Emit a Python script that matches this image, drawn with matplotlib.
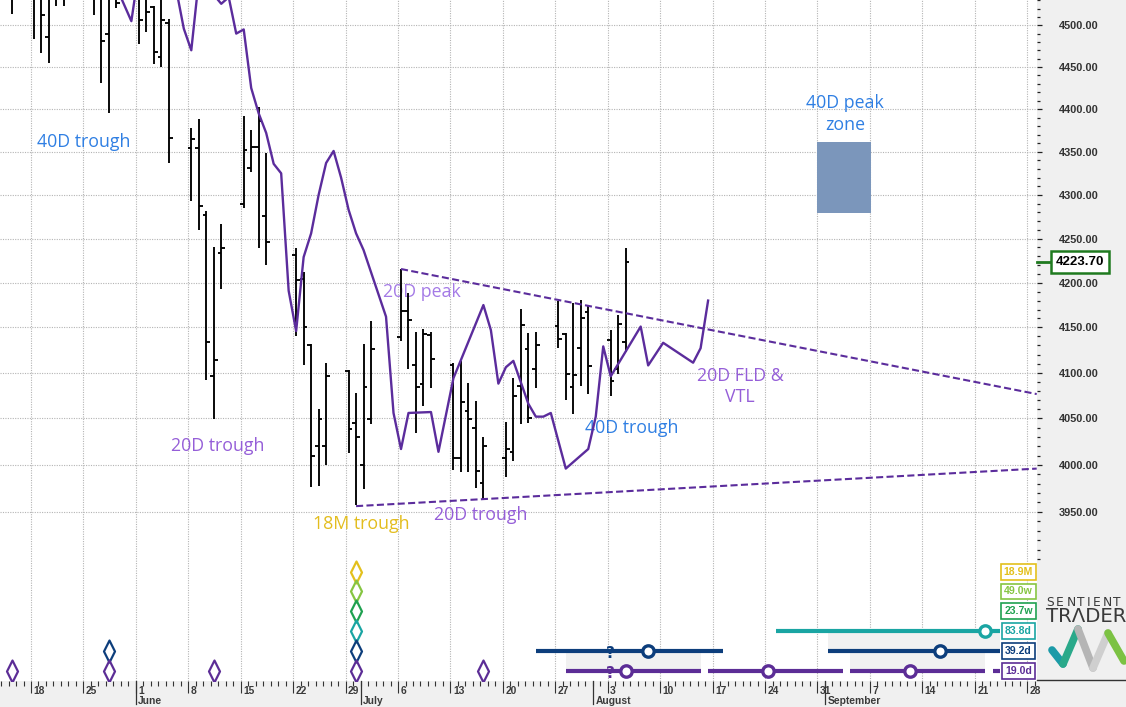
import matplotlib
matplotlib.use('Agg')
import matplotlib.pyplot as plt
import matplotlib.dates as mdates
import numpy as np
import pandas as pd
from matplotlib.transforms import blended_transform_factory as blend, ScaledTranslation
from matplotlib.path import Path
from matplotlib.patches import Rectangle
from matplotlib.ticker import FixedLocator, NullFormatter, FixedFormatter

plt.rcParams['font.family'] = ['Liberation Sans', 'DejaVu Sans']

# ---------------- data ----------------
bar_dates = ['2026-05-15', '2026-05-18', '2026-05-19', '2026-05-20', '2026-05-21', '2026-05-22',
             '2026-05-26', '2026-05-27', '2026-05-28', '2026-05-29',
             '2026-06-01', '2026-06-02', '2026-06-03', '2026-06-04', '2026-06-05',
             '2026-06-08', '2026-06-09', '2026-06-10', '2026-06-11', '2026-06-12',
             '2026-06-15', '2026-06-16', '2026-06-17', '2026-06-18',
             '2026-06-22', '2026-06-23', '2026-06-24', '2026-06-25', '2026-06-26',
             '2026-06-29', '2026-06-30', '2026-07-01', '2026-07-02',
             '2026-07-06', '2026-07-07', '2026-07-08', '2026-07-09', '2026-07-10',
             '2026-07-13', '2026-07-14', '2026-07-15', '2026-07-16', '2026-07-17',
             '2026-07-20', '2026-07-21', '2026-07-22', '2026-07-23', '2026-07-24',
             '2026-07-27', '2026-07-28', '2026-07-29', '2026-07-30', '2026-07-31',
             '2026-08-03', '2026-08-04', '2026-08-05']
opens = [4565, 4555, 4560, 4486, 4560, 4570, 4560, 4555, 4489, 4550,
         4550, 4540, 4522, 4462, 4503,
         4355, 4355, 4277, 4096, 4234,
         4290, 4331, 4356, 4276,
         4231, 4204, 4131, 4020, 4020,
         4102, 4045, 4000, 4049,
         4139, 4168, 4108, 4088, 4142,
         4108, 4007, 4058, 4040, 3981,
         4007, 4014, 4085, 4126, 4104,
         4152, 4143, 4084, 4127, 4167,
         4136, 4104, 4134]
highs = [4590, 4600, 4590, 4585, 4600, 4605, 4600, 4580, 4570, 4580,
         4575, 4570, 4523, 4545, 4508,
         4378, 4388, 4281, 4241, 4267,
         4392, 4376, 4403, 4349,
         4239, 4212, 4132, 4060, 4111,
         4103, 4078, 4132, 4157,
         4216, 4188, 4145, 4148, 4145,
         4111, 4113, 4089, 4069, 4030,
         4046, 4094, 4171, 4144, 4145,
         4179, 4144, 4177, 4181, 4175,
         4147, 4164, 4239]
lows = [4514, 4484, 4467, 4455, 4523, 4523, 4513, 4431, 4395, 4521,
        4477, 4492, 4454, 4450, 4337,
        4293, 4260, 4092, 4049, 4193,
        4285, 4327, 4239, 4220,
        4140, 4108, 3976, 3977, 4000,
        4013, 3957, 3974, 4044,
        4135, 4104, 4034, 4064, 4083,
        3994, 3992, 3992, 3975, 3964,
        3987, 4004, 4044, 4045, 4083,
        4127, 4070, 4055, 4085, 4077,
        4074, 4099, 4123]
closes = [4540, 4545, 4512, 4545, 4575, 4560, 4550, 4481, 4540, 4527,
          4506, 4516, 4468, 4506, 4366,
          4365, 4287, 4134, 4114, 4239,
          4352, 4356, 4386, 4246,
          4203, 4150, 4009, 4049, 4096,
          4039, 4030, 4084, 4126,
          4168, 4158, 4084, 4143, 4115,
          4007, 4068, 4049, 3993, 4020,
          4017, 4075, 4153, 4050, 4130,
          4137, 4099, 4097, 4161, 4107,
          4091, 4154, 4223.70]

fld_dates = ['2026-05-28', '2026-05-31', '2026-06-01', '2026-06-06', '2026-06-07', '2026-06-08',
             '2026-06-09', '2026-06-11', '2026-06-12', '2026-06-13', '2026-06-14', '2026-06-15',
             '2026-06-16', '2026-06-17', '2026-06-18', '2026-06-19', '2026-06-20', '2026-06-21',
             '2026-06-22', '2026-06-23', '2026-06-24', '2026-06-25', '2026-06-26', '2026-06-27',
             '2026-06-28', '2026-06-29', '2026-06-30', '2026-07-01', '2026-07-04', '2026-07-05',
             '2026-07-06', '2026-07-07', '2026-07-10', '2026-07-11', '2026-07-13', '2026-07-14',
             '2026-07-17', '2026-07-18', '2026-07-19', '2026-07-20', '2026-07-21', '2026-07-23',
             '2026-07-24', '2026-07-25', '2026-07-26', '2026-07-28', '2026-07-31', '2026-08-01',
             '2026-08-02', '2026-08-03', '2026-08-07', '2026-08-08', '2026-08-10', '2026-08-14',
             '2026-08-15', '2026-08-16']
fld_values = [4567, 4505, 4567, 4543, 4496, 4470,
              4555, 4537, 4526, 4534, 4490, 4495,
              4425, 4395, 4372, 4336, 4325, 4191,
              4146, 4229, 4256, 4300, 4337, 4351,
              4320, 4283, 4256, 4237, 4162, 4056,
              4017, 4056, 4057, 4014, 4094, 4114,
              4175, 4147, 4088, 4106, 4113, 4066,
              4052, 4052, 4056, 3996, 4017, 4052,
              4129, 4096, 4151, 4108, 4133, 4111,
              4127, 4180]

vtl_upper_dates = ['2026-07-06', '2026-09-28']
vtl_upper_values = [4215.5, 4078.0]
vtl_lower_dates = ['2026-06-30', '2026-09-28']
vtl_lower_values = [3956.0, 3995.6]

peak_zone_dates = ['2026-08-31 00:00', '2026-09-07 05:00']
peak_zone_values = [4279, 4361]

price_ticks = [3950, 4000, 4050, 4100, 4150, 4200, 4250, 4300, 4350, 4400, 4450, 4500]
week_start = '2026-05-18'
week_labels = ['18', '25', '1', '8', '15', '22', '29', '6', '13', '20',
               '27', '3', '10', '17', '24', '31', '7', '14', '21', '28']
month_dates = ['2026-06-01', '2026-07-01', '2026-08-01', '2026-09-01']
month_labels = ['June', 'July', 'August', 'September']

cycle_labels = ['18.9M', '49.0w', '23.7w', '83.8d', '39.2d', '19.0d']
cycle_colors = ['#e3c01c', '#86c542', '#1fa150', '#1aa5a3', '#0d3e7c', '#5c2d96']
troughs_18_9M = ['2026-06-30']
troughs_49_0w = ['2026-06-30']
troughs_23_7w = ['2026-06-30']
troughs_83_8d = ['2026-06-30']
troughs_39_2d = ['2026-05-28', '2026-06-30']
troughs_19_0d = ['2026-05-15', '2026-05-28', '2026-06-11', '2026-06-30', '2026-07-17']

proj_83_8d = [('2026-08-25', '2026-09-24')]
proj_39_2d = [('2026-07-24', '2026-08-18'), ('2026-09-01', '2026-09-24')]
proj_19_0d = [('2026-07-28', '2026-08-15'), ('2026-08-16', '2026-09-03'),
              ('2026-09-04', '2026-09-22'), ('2026-09-23', '2026-09-24')]
next_83_8d = ['2026-09-22']
next_39_2d = ['2026-08-08', '2026-09-16']
next_19_0d = ['2026-08-05', '2026-08-24', '2026-09-12']
unconfirmed_39_2d = ['2026-08-03']
unconfirmed_19_0d = ['2026-08-03']
last_price = 4223.70

# ---------------- layout ----------------
W, H, DPI = 1126, 707, 100
PLOT_R, PLOT_B = 1036.7, 681.0
DAY_PX = 7.49
BAR_OFF = 0.4

fig = plt.figure(figsize=(W / DPI, H / DPI), dpi=DPI)
fig.patch.set_facecolor('#f0f0f0')
ax = fig.add_axes([0, 1 - PLOT_B / H, PLOT_R / W, PLOT_B / H])
ax.set_facecolor('white')
for s in ax.spines.values():
    s.set_visible(False)


def dn(v):
    return mdates.date2num(pd.to_datetime(v))


x0 = dn(week_start)
ax.set_xlim(x0 - 31 / DAY_PX, x0 + (PLOT_R - 31) / DAY_PX)
ax.set_yscale('log')
ax.set_ylim(3774.9, 4530.6)
xl = ax.get_xlim()

# x ticks
week_pos = dn(pd.date_range(week_start, periods=len(week_labels), freq='7D'))
ax.xaxis.set_major_locator(FixedLocator(week_pos))
ax.xaxis.set_minor_locator(FixedLocator(np.arange(np.ceil(xl[0]), xl[1])))
ax.xaxis.set_major_formatter(NullFormatter())
ax.xaxis.set_minor_formatter(NullFormatter())
ax.tick_params(axis='x', which='major', length=8.5, width=0.8, color='#333333')
ax.tick_params(axis='x', which='minor', length=3.6, width=0.8, color='#333333')

tx = blend(ax.transData, ax.transAxes) + ScaledTranslation(2.5 / DPI, 0, fig.dpi_scale_trans)
for p, lab in zip(week_pos, week_labels):
    ax.text(p, 1 - 690.5 / PLOT_B, lab, transform=tx, ha='left', va='center',
            fontsize=7.4, fontweight='bold', color='#3a3a3a', clip_on=False)
tb = blend(ax.transData, ax.transAxes)
for d, lab in zip(month_dates, month_labels):
    p = dn(d)
    ax.plot([p, p], [0, 1 - 704 / PLOT_B], transform=tb, color='#333333', lw=0.9, clip_on=False)
    ax.text(p, 1 - 701.5 / PLOT_B, lab, transform=tx, ha='left', va='center',
            fontsize=7.4, fontweight='bold', color='#3a3a3a', clip_on=False)

# y ticks
ax.yaxis.tick_right()
ax.yaxis.set_major_locator(FixedLocator(price_ticks))
ax.yaxis.set_major_formatter(FixedFormatter([f'{v:.2f}' for v in price_ticks]))
ax.yaxis.set_minor_locator(FixedLocator(np.arange(3900, 4531, 10)))
ax.yaxis.set_minor_formatter(NullFormatter())
ax.tick_params(axis='y', which='major', length=3.8, width=0.9, color='#222222', pad=12.0,
               labelsize=7.9, labelcolor='#333333')
ax.tick_params(axis='y', which='minor', length=2.2, width=0.9, color='#222222')
for lbl in ax.get_yticklabels():
    lbl.set_fontweight('bold')

ax.grid(True, which='major', axis='both', color='#b4b4b4', linestyle=(0, (1, 1.2)), lw=0.8)
ax.set_axisbelow(True)

# peak zone
zx = dn(peak_zone_dates)
ax.add_patch(Rectangle((zx[0], peak_zone_values[0]), zx[1] - zx[0],
                       peak_zone_values[1] - peak_zone_values[0],
                       facecolor='#7b96bb', edgecolor='none', zorder=2))

# annotations (under the bars)
BLUE, PURPLE, GOLD = '#2f7fe3', '#955ed8', '#e3bd1e'
ann_font = dict(family=['Open Sans', 'DejaVu Sans'], fontsize=12.8, zorder=3)


def label(xp, yp, s, c, **kw):
    ax.text(xp / PLOT_R, 1 - yp / PLOT_B, s, transform=ax.transAxes, ha='center', va='center',
            color=c, **ann_font, **kw)


label(84, 142, '40D trough', BLUE)
label(218, 446, '20D trough', PURPLE)
label(422, 292, '20D peak', '#a47ae6')
label(361, 524, '18M trough', GOLD)
label(481, 515, '20D trough', PURPLE)
label(632, 428, '40D trough', BLUE)
label(740, 376, '20D FLD &', PURPLE)
label(740, 397, 'VTL', PURPLE)
label(845, 103, '40D peak', BLUE)
label(845, 125, 'zone', BLUE)

# OHLC bars
bx = dn(bar_dates) + BAR_OFF
TW = 0.5
bar_kw = dict(color='black', lw=1.35, zorder=4)
ax.vlines(bx, lows, highs, **bar_kw)
ax.hlines(opens, bx - TW, bx, **bar_kw)
ax.hlines(closes, bx, bx + TW, **bar_kw)

# FLD line
LINE_PURPLE = '#5b2c9c'
ax.plot(dn(fld_dates) + BAR_OFF, fld_values, color=LINE_PURPLE, lw=1.7, zorder=5)


# trend lines extended to right edge
def extended(dates, vals):
    xs = dn(dates) + BAR_OFF
    lv = np.log(vals)
    slope = (lv[1] - lv[0]) / (xs[1] - xs[0])
    return [xs[0], xl[1]], [vals[0], float(np.exp(lv[0] + slope * (xl[1] - xs[0])))]


for d, v in [(vtl_upper_dates, vtl_upper_values), (vtl_lower_dates, vtl_lower_values)]:
    xs, ys = extended(d, v)
    ln, = ax.plot(xs, ys, color=LINE_PURPLE, lw=1.5, zorder=5)
    ln.set_dashes((3.4, 1.6))

ax.set_xlim(xl)

# ---------------- cycle panel ----------------
TOP_PX = 560.0
ax2 = fig.add_axes([0, 1 - PLOT_B / H, PLOT_R / W, (PLOT_B - TOP_PX) / H])
ax2.set_xlim(xl)
ROW0, ROWSP = 571.6, 19.9
ax2.set_ylim((PLOT_B - ROW0) / ROWSP, (TOP_PX - ROW0) / ROWSP)
ax2.axis('off')
ax2.patch.set_alpha(0)

# faint time bands
band_color = '#f1f1f1'
for (a, b), r0 in [(proj_19_0d[0], 4.0), (proj_39_2d[1], 3.05), (proj_19_0d[2], 4.0)]:
    xa, xb = dn(a) + BAR_OFF, dn(b) + BAR_OFF
    ax2.add_patch(Rectangle((xa, r0), xb - xa, 1.0, facecolor=band_color, edgecolor='none', zorder=0))

diamond = Path([(0, 1), (0.5, 0), (0, -1), (-0.5, 0), (0, 1)],
               [Path.MOVETO, Path.LINETO, Path.LINETO, Path.LINETO, Path.CLOSEPOLY])
troughs = [troughs_18_9M, troughs_49_0w, troughs_23_7w, troughs_83_8d, troughs_39_2d, troughs_19_0d]
for k, (tl, c) in enumerate(zip(troughs, cycle_colors)):
    ax2.plot(dn(tl) + BAR_OFF, [k] * len(tl), ls='none', marker=diamond, ms=15.8,
             mfc='none', mec=c, mew=1.6, zorder=3)

projs = {3: (proj_83_8d, next_83_8d, []), 4: (proj_39_2d, next_39_2d, unconfirmed_39_2d),
         5: (proj_19_0d, next_19_0d, unconfirmed_19_0d)}
for k, (segs, nxt, unc) in projs.items():
    c = cycle_colors[k]
    for a, b in segs:
        ax2.plot([dn(a) + BAR_OFF, dn(b) + BAR_OFF], [k, k], color=c, lw=3.0,
                 solid_capstyle='butt', zorder=2)
    ax2.plot(dn(nxt) + BAR_OFF, [k] * len(nxt), ls='none', marker='o', ms=8.2,
             mfc='white', mec=c, mew=2.4, zorder=4)
    for u in unc:
        ax2.text(dn(u) + BAR_OFF, k + 0.1, '?', ha='center', va='center', color=c,
                 fontsize=11, fontweight='bold', family='DejaVu Sans', zorder=4)

tl_box = blend(ax2.transAxes, ax2.transData)
for k, (lab, c) in enumerate(zip(cycle_labels, cycle_colors)):
    ax2.text(1018.5 / PLOT_R, k, lab, transform=tl_box, ha='center', va='center',
             fontsize=7.6, fontweight='bold', color=c, zorder=6,
             bbox=dict(boxstyle='square,pad=0.28', fc='white', ec=c, lw=1.2))

# ---------------- right side extras ----------------
tp = blend(fig.transFigure, ax.transData)
ax.plot([PLOT_R / W, 1051 / W], [last_price, last_price], transform=tp, color='#1f7a1f',
        lw=2, clip_on=False, zorder=6)
ax.text(1080 / W, last_price, f'{last_price:.2f}', transform=tp, ha='center', va='center',
        fontsize=9.5, fontweight='bold', color='black', clip_on=False, zorder=7,
        bbox=dict(boxstyle='square,pad=0.36', fc='white', ec='#1f7a1f', lw=1.8))

fig.add_artist(plt.Line2D([PLOT_R / W, 1], [1 - 680 / H, 1 - 680 / H], color='#333333', lw=1,
                          transform=fig.transFigure))
x_letter = 1046
for ch in 'SENTIENT':
    fig.text(x_letter / W, 1 - 602 / H, ch, ha='left', va='center', fontsize=8.8,
             color='#3a3a3a', family='DejaVu Sans')
    x_letter += 5.6 if ch == 'I' else 10.2
fig.text(1046 / W, 1 - 616.5 / H, 'TRΛDER', ha='left', va='center', fontsize=14.2,
         color='#3a3a3a', family='DejaVu Sans')


def fpx(pts):
    return [p[0] / W for p in pts], [1 - p[1] / H for p in pts]


logo_segs = [([(1052, 650), (1063, 664)], '#1b9aa8'),
             ([(1063, 664), (1078, 629)], '#2aa98a'),
             ([(1078, 629), (1093, 668)], '#b5b5b5'),
             ([(1093, 668), (1108, 633)], '#cfcfcf'),
             ([(1108, 633), (1124, 661)], '#7cc243')]
for pts, c in logo_segs:
    xs, ys = fpx(pts)
    fig.add_artist(plt.Line2D(xs, ys, color=c, lw=5.5, solid_capstyle='round',
                              transform=fig.transFigure))

fig.savefig('out.png', dpi=DPI, facecolor=fig.get_facecolor())
